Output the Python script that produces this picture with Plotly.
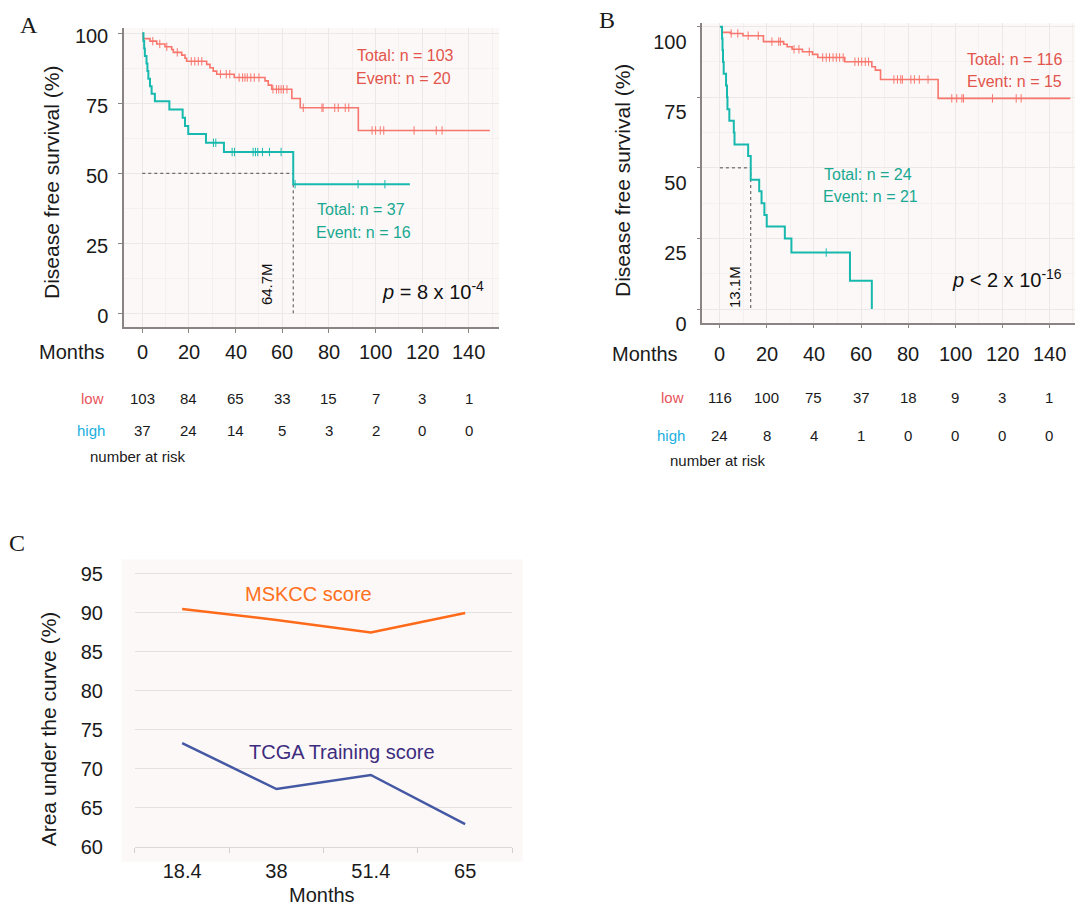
import plotly.graph_objects as go

FONT = "Liberation Sans, Arial, sans-serif"
SERIF = "Liberation Serif, Times New Roman, serif"

RED = "#F8766D"
TEAL = "#17B9AE"
RED_TXT = "#E2544C"
TEAL_TXT = "#19A892"
LOW_TXT = "#E8545A"
HIGH_TXT = "#1AAEE0"
AXIS = "#8C8482"
GRID = "#ECE8E7"
GRID_MINOR = "#F4F0EF"
BG = "#FCF8F7"

# ---------------- Panel A data ----------------
a_low_time = [0, 0.4, 3.3, 6.2, 9.7, 12.6, 13.3, 16.9, 18.3, 19.0, 27.6, 29.0, 30.4, 31.9,
              39.4, 52.6, 54.0, 55.5, 64.1, 67.7, 92.6, 149.0]
a_low_surv = [100, 98.1, 97.2, 96.2, 95.2, 94.2, 93.2, 92.2, 91.1, 90.0, 88.9, 87.7, 86.5, 85.4,
              84.2, 83.0, 81.5, 80.0, 76.7, 73.4, 65.3, 65.3]
a_low_censor = [4.5, 7.5, 10.5, 15.0, 21.0, 22.5, 24.0, 25.5, 33.5, 36.0, 37.5, 41.5, 43.0, 44.0,
                45.0, 46.5, 48.0, 50.0, 56.0, 57.5, 58.5, 59.5, 60.5, 62.0, 69.0, 77.0, 77.5,
                82.5, 84.0, 87.0, 88.5, 98.5, 100.0, 102.0, 103.5, 116.5, 126.0, 128.5]
a_high_time = [0, 0.5, 0.8, 1.1, 1.8, 2.2, 2.6, 3.3, 4.0, 5.4, 11.6, 17.3, 18.3, 19.7, 27.3,
               35.0, 64.7, 114.7]
a_high_surv = [100, 97.3, 94.6, 91.9, 89.2, 86.5, 83.8, 81.1, 78.4, 75.7, 72.8, 69.8, 66.9, 64.0,
               60.9, 57.6, 46.1, 46.1]
a_high_censor = [30.5, 31.5, 38.5, 39.5, 47.5, 48.5, 49.5, 51.5, 54.5, 59.5, 65.5, 92.5, 104.0]
a_median = 64.7

# ---------------- Panel B data ----------------
b_low_time = [0, 0.8, 4.5, 9.8, 18.5, 27.1, 28.6, 30.7, 35.1, 39.4, 41.6, 53.1, 64.6, 66.1,
              68.3, 92.8, 149.0]
b_low_surv = [100, 98.0, 97.6, 96.8, 94.7, 93.8, 92.9, 92.0, 91.1, 90.2, 89.1, 87.6, 85.8, 84.6,
              81.3, 74.6, 74.6]
b_low_censor = [4.8, 7.6, 12.0, 16.3, 22.1, 25.0, 25.7, 31.5, 33.6, 38.0, 43.7, 45.2, 46.6, 48.1,
                49.5, 50.9, 52.4, 57.4, 58.9, 60.3, 61.8, 63.2, 74.0, 75.5, 76.9, 77.6, 81.2,
                82.7, 84.8, 88.5, 98.6, 100.7, 102.9, 103.6, 115.9, 126.0, 128.1]
b_high_time = [0, 0.9, 1.1, 1.3, 1.6, 2.6, 3.0, 3.2, 4.0, 5.9, 6.2, 12.0, 13.1, 16.7, 17.7,
               18.9, 19.9, 27.6, 30.4, 55.3, 64.6]
b_high_surv = [100, 95.8, 91.7, 87.5, 83.3, 79.2, 75.0, 70.8, 66.7, 62.5, 58.3, 54.2, 45.8, 41.7,
               37.5, 33.3, 29.2, 25.0, 20.0, 10.0, 0]
b_high_censor = [45.2]
b_median = 13.1

median_level = 50

# ---------------- Risk tables ----------------
risk_months = [0, 20, 40, 60, 80, 100, 120, 140]
a_risk_low = [103, 84, 65, 33, 15, 7, 3, 1]
a_risk_high = [37, 24, 14, 5, 3, 2, 0, 0]
b_risk_low = [116, 100, 75, 37, 18, 9, 3, 1]
b_risk_high = [24, 8, 4, 1, 0, 0, 0, 0]

# ---------------- Panel C data ----------------
c_months = ["18.4", "38", "51.4", "65"]
c_mskcc = [90.5, 89.1, 87.5, 90.0]
c_tcga = [73.3, 67.4, 69.2, 62.9]


def surv_at(times, survs, t):
    val = survs[0]
    for ti, si in zip(times, survs):
        if ti <= t:
            val = si
    return val


fig = go.Figure()


def add_km(xa, ya, t_low, s_low, c_low, t_high, s_high, c_high, median):
    fig.add_trace(go.Scatter(x=[0, median, median], y=[median_level, median_level, 0],
                             mode="lines", xaxis=xa, yaxis=ya, hoverinfo="skip",
                             line=dict(color="#4a4a4a", width=1, dash="3px,3px")))
    fig.add_trace(go.Scatter(x=t_low, y=s_low, mode="lines", xaxis=xa, yaxis=ya,
                             line=dict(color=RED, width=1.6, shape="hv")))
    fig.add_trace(go.Scatter(x=c_low, y=[surv_at(t_low, s_low, c) for c in c_low],
                             mode="markers", xaxis=xa, yaxis=ya,
                             marker=dict(symbol="line-ns-open", size=6, color=RED,
                                         line=dict(color=RED, width=1))))
    fig.add_trace(go.Scatter(x=t_high, y=s_high, mode="lines", xaxis=xa, yaxis=ya,
                             line=dict(color=TEAL, width=2, shape="hv")))
    fig.add_trace(go.Scatter(x=c_high, y=[surv_at(t_high, s_high, c) for c in c_high],
                             mode="markers", xaxis=xa, yaxis=ya,
                             marker=dict(symbol="line-ns-open", size=6, color=TEAL,
                                         line=dict(color=TEAL, width=1))))


add_km("x", "y", a_low_time, a_low_surv, a_low_censor,
       a_high_time, a_high_surv, a_high_censor, a_median)
add_km("x2", "y2", b_low_time, b_low_surv, b_low_censor,
       b_high_time, b_high_surv, b_high_censor, b_median)

fig.add_trace(go.Scatter(x=c_months, y=c_mskcc, mode="lines", xaxis="x3", yaxis="y3",
                         line=dict(color="#FF6A1A", width=2.5)))
fig.add_trace(go.Scatter(x=c_months, y=c_tcga, mode="lines", xaxis="x3", yaxis="y3",
                         line=dict(color="#4458A4", width=2.5)))

tickfont = dict(family=FONT, size=20, color="#1a1a1a")


def km_xaxis(domain, rng, anchor):
    return dict(domain=domain, range=rng, anchor=anchor, automargin=False, showline=True,
                linecolor=AXIS, linewidth=1.5, ticks="outside", ticklen=4, tickcolor=AXIS,
                tickwidth=1, tick0=0, dtick=20, showticklabels=False, showgrid=True,
                gridcolor=GRID, gridwidth=1, zeroline=False,
                minor=dict(tick0=0, dtick=10, showgrid=True, gridcolor=GRID_MINOR, ticks=""))


def km_yaxis(domain, rng, anchor, shift):
    return dict(domain=domain, range=rng, anchor=anchor, automargin=False, showline=True,
                linecolor=AXIS, linewidth=1.5, ticks="outside", ticklen=4, tickcolor=AXIS,
                tickwidth=1, tickvals=[0, 25, 50, 75, 100], tickfont=tickfont,
                ticklabelstandoff=6, ticklabelshift=shift, showgrid=True, gridcolor=GRID,
                zeroline=False,
                minor=dict(tick0=0, dtick=12.5, showgrid=True, gridcolor=GRID_MINOR, ticks=""))


annotations = []


def ann(text, x, y, xref="paper", yref="paper", size=16, color="#1a1a1a", xanchor="center",
        yanchor="middle", angle=0, family=FONT):
    annotations.append(dict(text=text, x=x, y=y, xref=xref, yref=yref, showarrow=False,
                            xanchor=xanchor, yanchor=yanchor, textangle=angle,
                            font=dict(family=family, size=size, color=color)))


# Panel letters
ann("A", 0.0270, 0.9724, size=24, family=SERIF)
ann("B", 0.5644, 0.9780, size=24, family=SERIF)
ann("C", 0.0155, 0.4010, size=24, family=SERIF)

# Axis titles
ann("Disease free survival (%)", 0.0474, 0.7993, size=21, angle=-90)
ann("Disease free survival (%)", 0.5786, 0.8015, size=21, angle=-90)
ann("Area under the curve (%)", 0.0449, 0.1962, size=21, angle=-90)
ann("Months", 0.2993, 0.0130, size=20)

# Panel A texts
ann("Total: n = 103", 91.2, 91.9, "x", "y", 16, RED_TXT, "left")
ann("Event: n = 20", 90.7, 84.0, "x", "y", 16, RED_TXT, "left")
ann("Total: n = 37", 74.0, 36.9, "x", "y", 16, TEAL_TXT, "left")
ann("Event: n = 16", 73.7, 29.0, "x", "y", 16, TEAL_TXT, "left")
ann("<i>p</i> = 8 x 10<sup>-4</sup>", 101.9, 8.3, "x", "y", 20, "#111", "left")
ann(f"{a_median}M", 53.3, 10.3, "x", "y", 15, "#111", angle=-90)

# Panel B texts
ann("Total: n = 116", 104.3, 88.4, "x2", "y2", 16, RED_TXT, "left")
ann("Event: n = 15", 104.3, 80.7, "x2", "y2", 16, RED_TXT, "left")
ann("Total: n = 24", 43.3, 47.5, "x2", "y2", 16, TEAL_TXT, "left")
ann("Event: n = 21", 43.0, 39.8, "x2", "y2", 16, TEAL_TXT, "left")
ann("<i>p</i> &lt; 2 x 10<sup>-16</sup>", 97.8, 10.7, "x2", "y2", 20, "#111", "left")
ann(f"{b_median}M", 6.1, 7.9, "x2", "y2", 15, "#111", angle=-90)

# Panel C texts
ann("MSKCC score", 1.337, 92.4, "x3", "y3", 20, "#FF7020")
ann("TCGA Training score", 1.697, 72.1, "x3", "y3", 20, "#3D2C7E")

# Months rows + risk tables
ann("Months", 0.0674, 0.6119, size=20)
ann("Months", 0.6000, 0.6097, size=20)
for m, lo, hi in zip(risk_months, a_risk_low, a_risk_high):
    ann(str(m), m, 0.6119, "x", "paper", 20)
    ann(str(lo), m, 0.5601, "x", "paper", 15)
    ann(str(hi), m, 0.5259, "x", "paper", 15)
for m, lo, hi in zip(risk_months, b_risk_low, b_risk_high):
    ann(str(m), m, 0.6097, "x2", "paper", 20)
    ann(str(lo), m, 0.5612, "x2", "paper", 15)
    ann(str(hi), m, 0.5193, "x2", "paper", 15)
ann("low", 0.0986, 0.5601, size=15, color=LOW_TXT, xanchor="right")
ann("high", 0.0995, 0.5259, size=15, color=HIGH_TXT, xanchor="right")
ann("number at risk", 0.0819, 0.4972, size=15, xanchor="left")
ann("low", 0.6381, 0.5612, size=15, color=LOW_TXT, xanchor="right")
ann("high", 0.6394, 0.5193, size=15, color=HIGH_TXT, xanchor="right")
ann("number at risk", 0.6217, 0.4928, size=15, xanchor="left")

fig.update_layout(
    width=1075, height=907, autosize=False,
    margin=dict(l=0, r=0, t=0, b=0, pad=0, autoexpand=False),
    paper_bgcolor="white", plot_bgcolor=BG,
    showlegend=False,
    font=dict(family=FONT, color="#1a1a1a"),
    xaxis=km_xaxis([0.11535, 0.46419], [-7.84, 152.9], "y"),
    yaxis=km_yaxis([0.63947, 0.96913], [-4.9, 101.9], "x", 3),
    xaxis2=km_xaxis([0.65330, 1.0], [-7.5, 151.0], "y2"),
    yaxis2=km_yaxis([0.64421, 0.97431], [-4.85, 101.2], "x2", 15),
    xaxis3=dict(domain=[0.12558, 0.47656], anchor="y3", automargin=False, type="category",
                range=[-0.5, 3.5], tickson="boundaries", ticks="outside", ticklen=5,
                tickcolor="#cfcfcf", showline=True, linecolor="#d9d9d9", linewidth=1,
                showgrid=False, tickfont=tickfont, ticklabelstandoff=6),
    yaxis3=dict(domain=[0.06648, 0.36847], anchor="x3", automargin=False, range=[60, 95.15],
                tick0=60, dtick=5, showgrid=True, gridcolor="#E4E0DF", gridwidth=1,
                showline=False, zeroline=False, ticks="", tickfont=tickfont,
                ticklabelstandoff=31),
    annotations=annotations,
    shapes=[dict(type="rect", xref="paper", yref="paper", x0=0.1132, x1=0.4862,
                 y0=0.04994, y1=0.38335, fillcolor=BG, line=dict(width=0), layer="below")],
)

fig.write_html("out.html")
